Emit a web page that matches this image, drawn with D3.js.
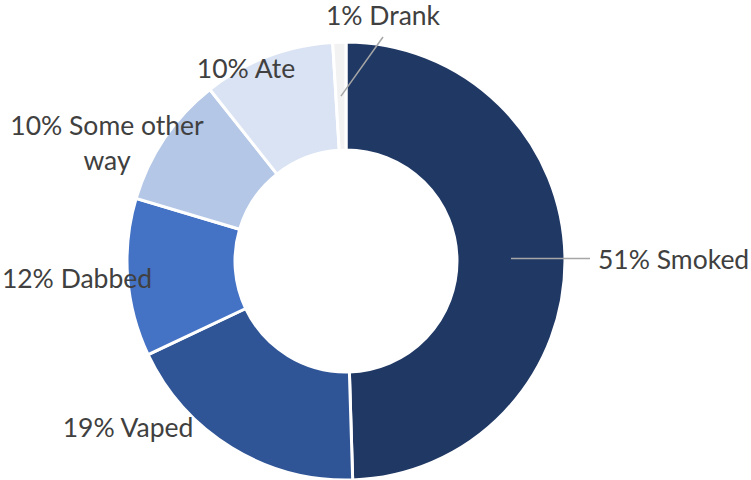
<!DOCTYPE html>
<html>
<head>
<meta charset="utf-8">
<script src="https://cdn.jsdelivr.net/npm/d3@7"></script>
<style>
  body { margin: 0; background: #fff; }
  svg { display: block; }
  .lbl { font-family: Lato, "Open Sans", sans-serif; font-size: 26.5px; fill: #404040; }
</style>
</head>
<body>
<div id="chart"></div>
<script>
// data
var categories = ["Smoked", "Vaped", "Dabbed", "Some other way", "Ate", "Drank"];
var values = [51, 19, 12, 10, 10, 1];
var colors = ["#203864", "#2f5597", "#4472c4", "#b4c7e7", "#dae3f3", "#f2f2f2"];

// label placement (relative to the donut center), Excel style
var labelLayout = [
  { dx: 252, dy: 8, anchor: "start", leader: "right" },
  { dx: -218, dy: 176, anchor: "middle" },
  { dx: -269, dy: 27, anchor: "middle" },
  { dx: -239, dy: -126, anchor: "middle", lines: ["10% Some other", "way"] },
  { dx: -100, dy: -183, anchor: "middle" },
  { dx: 37, dy: -236, anchor: "middle", leader: "up" }
];

var width = 751, height = 480;
var cx = 346, cy = 261, outerR = 219, innerR = 111;

var svg = d3.select("#chart").append("svg")
  .attr("width", width)
  .attr("height", height);

var g = svg.append("g").attr("transform", "translate(" + cx + "," + cy + ")");

var pie = d3.pie().sort(null).value(function (d) { return d; });
var arcs = pie(values);

var arc = d3.arc().innerRadius(innerR).outerRadius(outerR);
var midArc = d3.arc().innerRadius((innerR + outerR) / 2).outerRadius((innerR + outerR) / 2);

g.selectAll("path.slice")
  .data(arcs)
  .enter()
  .append("path")
  .attr("class", "slice")
  .attr("d", arc)
  .attr("fill", function (d, i) { return colors[i]; })
  .attr("stroke", "#fff")
  .attr("stroke-width", 3);

// leader lines
arcs.forEach(function (d, i) {
  var L = labelLayout[i];
  var c = midArc.centroid(d);
  if (L.leader == "right") {
    g.append("line")
      .attr("x1", c[0]).attr("y1", c[1])
      .attr("x2", L.dx - 8).attr("y2", c[1])
      .attr("stroke", "#a6a6a6").attr("stroke-width", 1.5);
  } else if (L.leader == "up") {
    g.append("line")
      .attr("x1", c[0]).attr("y1", c[1])
      .attr("x2", L.dx).attr("y2", L.dy + 12)
      .attr("stroke", "#a6a6a6").attr("stroke-width", 1.5);
  }
});

// labels
arcs.forEach(function (d, i) {
  var L = labelLayout[i];
  var lines = L.lines || [values[i] + "% " + categories[i]];
  var t = g.append("text")
    .attr("class", "lbl")
    .attr("text-anchor", L.anchor);
  lines.forEach(function (s, k) {
    t.append("tspan")
      .attr("x", L.dx)
      .attr("y", L.dy + k * 35)
      .text(s);
  });
});
</script>
</body>
</html>
